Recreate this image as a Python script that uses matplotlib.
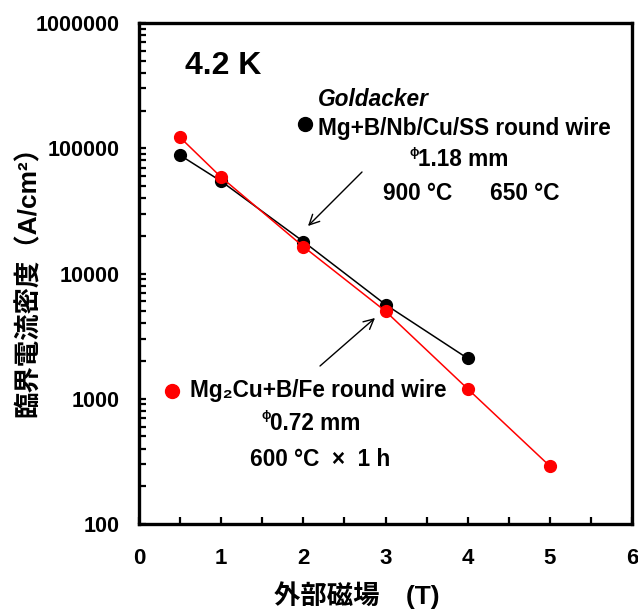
import matplotlib
matplotlib.use("Agg")
import matplotlib.pyplot as plt
from matplotlib.ticker import LogLocator, FixedLocator, NullFormatter

plt.rcParams['font.family'] = ['Liberation Sans', 'Noto Sans CJK JP', 'DejaVu Sans']
plt.rcParams['font.weight'] = 'bold'

# Data
field_black = [0.5, 1, 2, 3, 4]
jc_black = [88000, 54500, 18000, 5650, 2100]
field_red = [0.5, 1, 2, 3, 4, 5]
jc_red = [122000, 58700, 16400, 5000, 1200, 290]

xticks = [0, 1, 2, 3, 4, 5, 6]
yticks = [100, 1000, 10000, 100000, 1000000]
ytick_labels = ['100', '1000', '10000', '100000', '1000000']

W, H = 638, 610
fig = plt.figure(figsize=(W / 100, H / 100), dpi=100)
L, R, T, B = 139, 632, 23, 524
ax = fig.add_axes([L / W, 1 - B / H, (R - L) / W, (B - T) / H])

ax.plot(field_black, jc_black, color='black', lw=1.1, marker='o', ms=8.5, zorder=3)
ax.plot(field_red, jc_red, color='#ff0000', lw=1.1, marker='o', ms=8.5, zorder=4)

ax.set_yscale('log')
ax.set_xlim(0, 6)
ax.set_ylim(100, 1000000)
ax.set_xticks(xticks)
ax.set_xticklabels([str(v) for v in xticks])
ax.xaxis.set_minor_locator(FixedLocator([0.5, 1.5, 2.5, 3.5, 4.5, 5.5]))
ax.set_yticks(yticks)
ax.set_yticklabels(ytick_labels)
ax.yaxis.set_minor_locator(LogLocator(base=10, subs=range(2, 10)))
ax.yaxis.set_minor_formatter(NullFormatter())

for s in ['top', 'right', 'bottom', 'left']:
    ax.spines[s].set_linewidth(2.4)
ax.tick_params(axis='both', which='both', direction='in', width=1.6, length=5,
               top=False, right=False)
ax.tick_params(axis='x', which='major', pad=17, labelsize=16)
ax.tick_params(axis='y', which='major', pad=14, labelsize=15.5)
for lab in ax.get_xticklabels() + ax.get_yticklabels():
    lab.set_fontweight('bold')

def fx(px):
    return (px - L) / (R - L)

def fy(py):
    return (B - py) / (B - T)

tf = ax.transAxes
fs = 16.3
ax.text(fx(185), fy(66), '4.2 K', transform=tf, fontsize=23, fontweight='bold', va='center', ha='left')
ax.text(fx(318), fy(100), 'Goldacker', transform=tf, fontsize=16.3, fontweight='bold',
        style='italic', va='center', ha='left')
ax.plot([fx(305)], [fy(124)], transform=tf, marker='o', color='black', ms=10, clip_on=False)
ax.text(fx(318), fy(129), 'Mg+B/Nb/Cu/SS round wire', transform=tf, fontsize=fs,
        fontweight='bold', va='center', ha='left')
ax.text(fx(409), fy(153), 'ϕ', transform=tf, fontsize=9, fontweight='bold', va='center', ha='left')
ax.text(fx(418), fy(160), '1.18 mm', transform=tf, fontsize=fs, fontweight='bold', va='center', ha='left')
ax.text(fx(383), fy(193), '900 °C', transform=tf, fontsize=fs, fontweight='bold',
        va='center', ha='left')
ax.text(fx(490), fy(193), '650 °C', transform=tf, fontsize=fs, fontweight='bold',
        va='center', ha='left')

ax.plot([fx(172)], [fy(391)], transform=tf, marker='o', color='#ff0000', ms=10, clip_on=False)
ax.text(fx(190), fy(391), 'Mg₂Cu+B/Fe round wire', transform=tf, fontsize=fs,
        fontweight='bold', va='center', ha='left')
ax.text(fx(261), fy(416), 'ϕ', transform=tf, fontsize=9, fontweight='bold', va='center', ha='left')
ax.text(fx(270), fy(424), '0.72 mm', transform=tf, fontsize=fs, fontweight='bold', va='center', ha='left')
ax.text(fx(250), fy(459), '600 °C  ×  1 h', transform=tf, fontsize=fs, fontweight='bold',
        va='center', ha='left')

ax.annotate('', xy=(fx(308), fy(226)), xytext=(fx(362), fy(172)), xycoords=tf, textcoords=tf,
            arrowprops=dict(arrowstyle='->', color='black', lw=1.0, shrinkA=0, shrinkB=0,
                            mutation_scale=18))
ax.annotate('', xy=(fx(375), fy(318)), xytext=(fx(320), fy(366)), xycoords=tf, textcoords=tf,
            arrowprops=dict(arrowstyle='->', color='black', lw=1.0, shrinkA=0, shrinkB=0,
                            mutation_scale=18))

fig.text(28 / W, 1 - 275 / H, '臨界電流密度（A/cm²）', rotation=90, fontsize=19,
         fontweight='bold', va='center', ha='center')
fig.text(357 / W, 1 - 595 / H, '外部磁場\u3000(T)', fontsize=19, fontweight='bold',
         va='center', ha='center')

fig.savefig('out.png', dpi=100)
